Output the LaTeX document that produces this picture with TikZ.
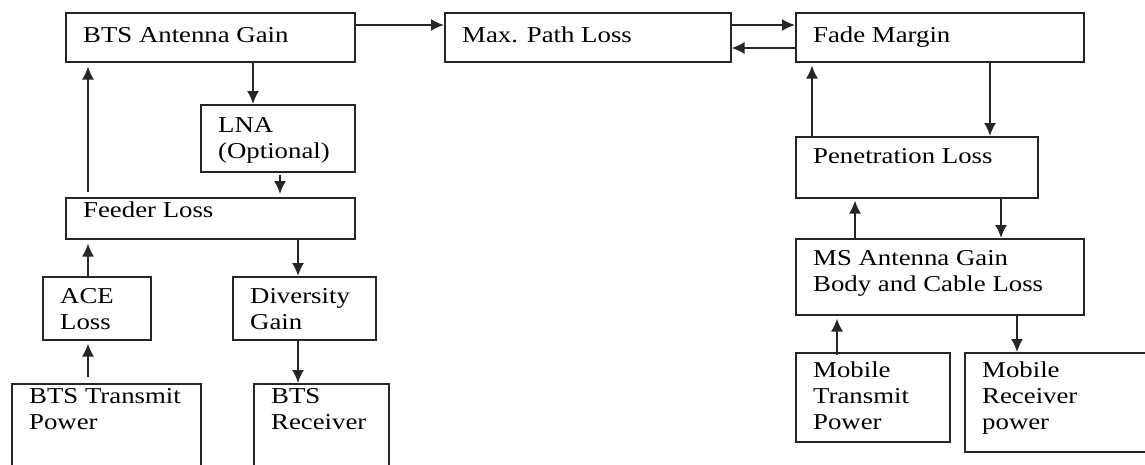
\documentclass[tikz,border=0pt]{standalone}
\usepackage{fontspec}
\setmainfont{Liberation Serif}[FakeStretch=1.18]
\usetikzlibrary{arrows.meta}
\begin{document}
\begin{tikzpicture}[
  x=1pt, y=-1pt,
  >={Latex[length=13pt,width=12pt]},
  blk/.style={rectangle, draw=black!85, line width=1.5pt, anchor=north west, inner sep=0pt},
  blktxt/.style={anchor=north west, inner sep=0pt, xshift=18pt, align=left, text=black, font={\fontsize{22.7}{26}\selectfont}},
  lnk/.style={->, draw=black!85, line width=1.8pt}
]
\useasboundingbox (0,0) rectangle (1145,464);
% base station side
\node[blk, minimum width=289pt, minimum height=49pt, label={[blktxt, yshift=-15pt]north west:BTS Antenna Gain}] (bag) at (65,12) {};
\node[blk, minimum width=154pt, minimum height=67pt, label={[blktxt, yshift=-13pt]north west:LNA\\(Optional)}] (lna) at (200,104) {};
\node[blk, minimum width=289pt, minimum height=41pt, label={[blktxt, yshift=-5pt]north west:Feeder Loss}] (feeder) at (65,197) {};
\node[blk, minimum width=108pt, minimum height=63pt, label={[blktxt, yshift=-12pt]north west:ACE\\Loss}] (ace) at (42,276) {};
\node[blk, minimum width=143pt, minimum height=63pt, label={[blktxt, yshift=-12pt]north west:Diversity\\Gain}] (div) at (232,276) {};
\node[blk, minimum width=189pt, minimum height=90pt, label={[blktxt, yshift=-5pt]north west:BTS Transmit\\Power}] (btstx) at (11,383) {};
\node[blk, minimum width=135pt, minimum height=90pt, label={[blktxt, yshift=-5pt]north west:BTS\\Receiver}] (btsrx) at (253,383) {};
% path
\node[blk, minimum width=286pt, minimum height=49pt, label={[blktxt, yshift=-15pt]north west:Max. Path Loss}] (mpl) at (444,12) {};
% mobile side
\node[blk, minimum width=288pt, minimum height=49pt, label={[blktxt, yshift=-15pt]north west:Fade Margin}] (fade) at (795,12) {};
\node[blk, minimum width=242pt, minimum height=61pt, label={[blktxt, yshift=-12pt]north west:Penetration Loss}] (pen) at (795,136) {};
\node[blk, minimum width=288pt, minimum height=76pt, label={[blktxt, yshift=-12pt]north west:MS Antenna Gain\\Body and Cable Loss}] (ms) at (795,238) {};
\node[blk, minimum width=154pt, minimum height=89pt, label={[blktxt, yshift=-10pt]north west:Mobile\\Transmit\\Power}] (mtx) at (795,352) {};
\node[blk, minimum width=190pt, minimum height=99pt, label={[blktxt, yshift=-10pt]north west:Mobile\\Receiver\\power}] (mrx) at (964,352) {};
% connectors
\draw[lnk] ([yshift=-13pt]bag.north east) -- ([yshift=-13pt]mpl.north west);
\draw[lnk] ([yshift=-13pt]mpl.north east) -- ([yshift=-13pt]fade.north west);
\draw[lnk] ([yshift=-36pt]fade.north west) -- ([yshift=-36pt]mpl.north east);
\draw[lnk] ([xshift=188pt]bag.south west) -- ([xshift=53pt]lna.north west);
\draw[lnk] ([xshift=80pt,yshift=-2pt]lna.south west) -- ([xshift=215pt,yshift=3pt]feeder.north west);
\draw[lnk] ([xshift=23pt,yshift=5pt]feeder.north west) -- ([xshift=23pt,yshift=-4pt]bag.south west);
\draw[lnk] ([xshift=46pt]ace.north west) -- ([xshift=23pt,yshift=-4pt]feeder.south west);
\draw[lnk] ([xshift=77pt,yshift=6pt]btstx.north west) -- ([xshift=46pt,yshift=-3pt]ace.south west);
\draw[lnk] ([xshift=233pt]feeder.south west) -- ([xshift=66pt]div.north west);
\draw[lnk] ([xshift=66pt]div.south west) -- ([xshift=45pt]btsrx.north west);
\draw[lnk] ([xshift=17pt]pen.north west) -- ([xshift=17pt,yshift=-3pt]fade.south west);
\draw[lnk] ([xshift=195pt]fade.south west) -- ([xshift=195pt]pen.north west);
\draw[lnk] ([xshift=60pt]ms.north west) -- ([xshift=60pt,yshift=-2pt]pen.south west);
\draw[lnk] ([xshift=206pt]pen.south west) -- ([xshift=206pt]ms.north west);
\draw[lnk] ([xshift=42pt,yshift=-3pt]mtx.north west) -- ([xshift=42pt,yshift=-3pt]ms.south west);
\draw[lnk] ([xshift=222pt]ms.south west) -- ([xshift=53pt]mrx.north west);
\end{tikzpicture}
\end{document}
